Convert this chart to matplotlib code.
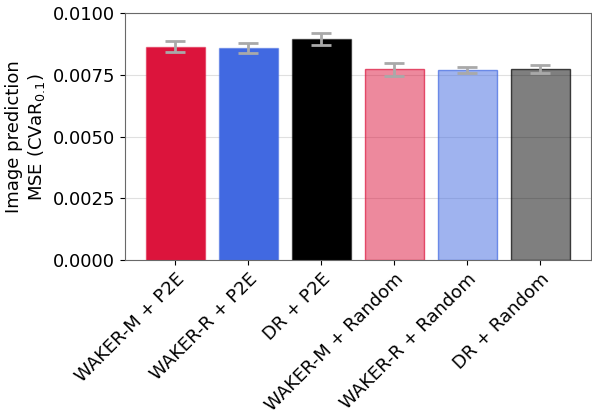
import matplotlib
matplotlib.use("Agg")
import matplotlib.pyplot as plt
import numpy as np
from matplotlib.colors import to_rgba

labels = ["WAKER-M + P2E", "WAKER-R + P2E", "DR + P2E",
          "WAKER-M + Random", "WAKER-R + Random", "DR + Random"]
values = [0.00864, 0.00859, 0.00896, 0.00773, 0.00770, 0.00774]
errors = [0.00022, 0.00021, 0.00024, 0.00027, 0.00014, 0.00018]
base_colors = ["crimson", "royalblue", "black", "crimson", "royalblue", "black"]
alphas = [1.0, 1.0, 1.0, 0.5, 0.5, 0.5]

fig, ax = plt.subplots(figsize=(5.92, 4.13), dpi=100)
x = np.arange(len(labels))
for i in range(len(labels)):
    fc = to_rgba(base_colors[i], alphas[i])
    ec = to_rgba(base_colors[i], 0.5 if alphas[i] == 1.0 else 0.7)
    ax.bar(x[i], values[i], width=0.8, color=fc, edgecolor=ec, linewidth=1,
           zorder=2)
ax.errorbar(x, values, yerr=errors, fmt="none", ecolor="darkgray",
            elinewidth=2, capsize=7, capthick=2, zorder=3)

ax.set_ylim(0, 0.01)
ax.set_yticks([0, 0.0025, 0.005, 0.0075, 0.01])
ax.set_yticklabels(["0.0000", "0.0025", "0.0050", "0.0075", "0.0100"])
ax.set_xticks(x)
ax.set_xticklabels(labels, rotation=45, ha="right", rotation_mode="anchor")
ax.tick_params(labelsize=13)
ax.yaxis.grid(True, color="lightgray", alpha=0.7, zorder=0)
ax.set_axisbelow(True)
for s in ax.spines.values():
    s.set_color("dimgray")
ax.set_ylabel("Image prediction\nMSE (CVaR$_{0.1}$)", fontsize=13)
fig.subplots_adjust(left=0.211, right=0.998, top=0.968, bottom=0.37)
fig.savefig("out.png", dpi=100)
